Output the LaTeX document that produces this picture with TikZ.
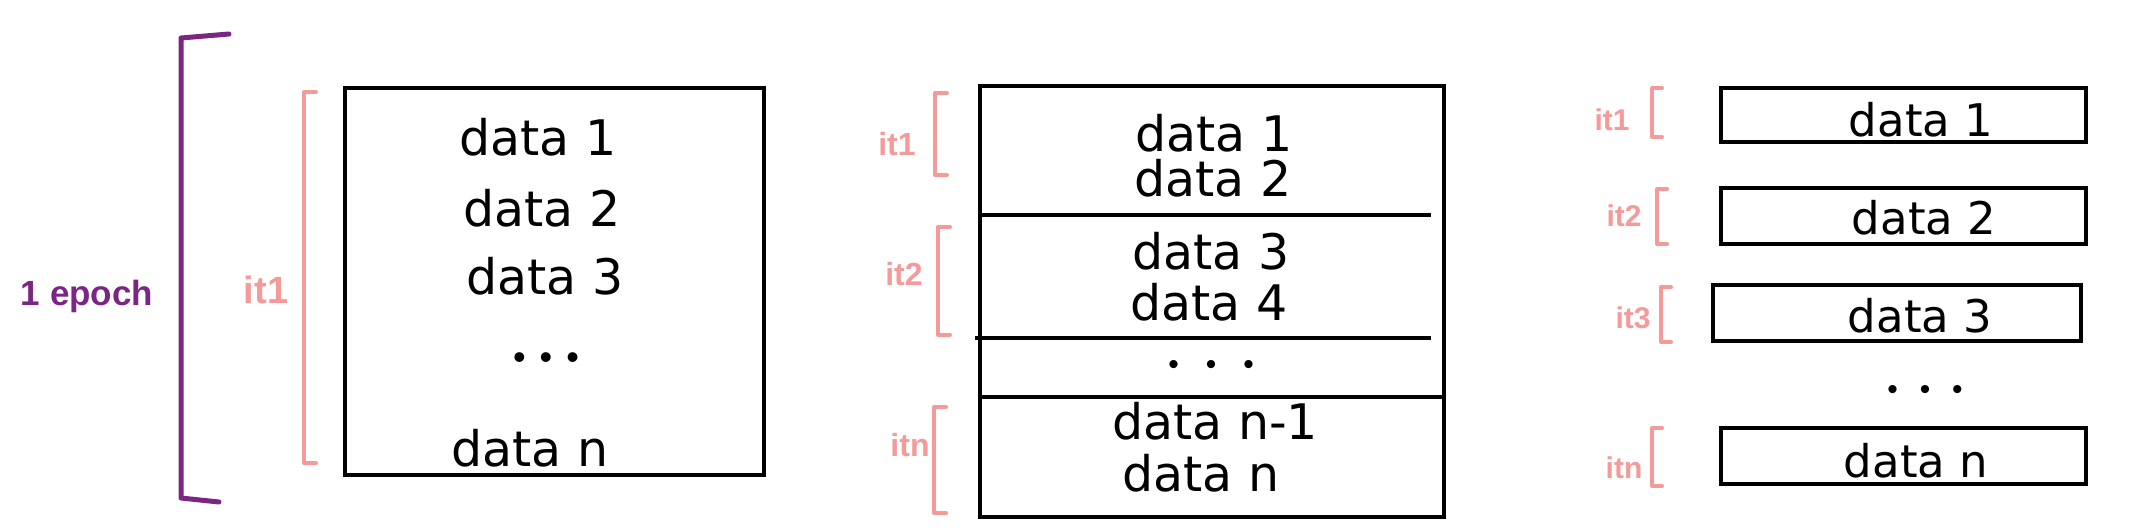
\documentclass[tikz,border=0pt]{standalone}
\usepackage{fontspec}
\setmainfont{Liberation Sans}
\newfontfamily\datafont{DejaVu Sans}
\definecolor{epochpurple}{RGB}{122,38,130}
\definecolor{itpink}{RGB}{244,154,152}
\begin{document}
\begin{tikzpicture}[x=1pt,y=-1pt,
  box/.style={draw=black, line width=4.5pt, inner sep=0pt, outer sep=0pt},
  boxline/.style={draw=black, line width=4.5pt},
  datatxt/.style={font=\datafont\fontsize{49}{52}\selectfont, inner sep=0pt},
  smalldata/.style={font=\datafont\fontsize{45}{48}\selectfont, inner sep=0pt},
  dotsA/.style={font=\fontsize{36}{40}\selectfont, inner sep=0pt},
  dotsB/.style={font=\fontsize{30}{34}\selectfont, inner sep=0pt},
  epochbr/.style={draw=epochpurple, line width=5pt, line join=round, line cap=round},
  itbr/.style={draw=itpink, line width=4pt, line join=round, line cap=round},
  epochlbl/.style={text=epochpurple, font=\fontsize{35}{38}\selectfont\bfseries, inner sep=0pt},
  itlblA/.style={text=itpink, font=\fontsize{38}{40}\selectfont\bfseries, inner sep=0pt},
  itlblB/.style={text=itpink, font=\fontsize{32}{36}\selectfont\bfseries, inner sep=0pt},
  itlblC/.style={text=itpink, font=\fontsize{30}{34}\selectfont\bfseries, inner sep=0pt}]
\useasboundingbox (0,0) rectangle (2147,530);

% ---------- Panel 1 ----------
\node[box, minimum width=419pt, minimum height=387pt] (b1) at (554.5,281.5) {};
\node[datatxt] (p1d1) at (538,137) {data 1};
\node[datatxt] (p1d2) at (542,208) {data 2};
\node[datatxt] (p1d3) at (545,276) {data 3};
\node[dotsA] (p1dots) at (546,361) {•\hspace{14pt}•\hspace{14pt}•};
\node[datatxt] (p1dn) at (530,448) {data n};

\draw[epochbr] (229,34) -- (181,38) -- (181,498) -- (219,502);
\node[epochlbl] (epoch) at (87,296) {1 epoch};

\draw[itbr] (316,92) -- (304,92) -- (304,463) -- (316,463);
\node[itlblA] (p1it) at (266,290) {it1};

% ---------- Panel 2 ----------
\node[box, minimum width=464pt, minimum height=431pt] (b2) at (1212,301.5) {};
\draw[boxline] (980,215) -- (1431,215);
\draw[boxline] (975,338) -- (1431,338);
\draw[boxline] (980,397) -- (1444,397);
\node[datatxt] (p2d1) at (1214,133) {data 1};
\node[datatxt] (p2d2) at (1213,178) {data 2};
\node[datatxt] (p2d3) at (1211,251) {data 3};
\node[datatxt] (p2d4) at (1209,302) {data 4};
\node[dotsB] (p2dots) at (1211,367) {•\hspace{27pt}•\hspace{27pt}•};
\node[datatxt] (p2dn1) at (1215,421) {data n-1};
\node[datatxt] (p2dn) at (1201,473) {data n};

\draw[itbr] (947,93) -- (935,93) -- (935,175) -- (947,175);
\node[itlblB] (p2it1) at (897,144) {it1};
\draw[itbr] (950,227) -- (938,227) -- (938,335) -- (950,335);
\node[itlblB] (p2it2) at (904,274) {it2};
\draw[itbr] (946,407) -- (934,407) -- (934,513) -- (946,513);
\node[itlblB] (p2itn) at (910,445) {itn};

% ---------- Panel 3 ----------
\node[box, minimum width=365pt, minimum height=54pt] (c1) at (1903.5,115) {};
\node[box, minimum width=365pt, minimum height=56pt] (c2) at (1903.5,216) {};
\node[box, minimum width=368pt, minimum height=56pt] (c3) at (1897,313) {};
\node[box, minimum width=365pt, minimum height=56pt] (cn) at (1903.5,456) {};
\node[smalldata] (p3d1) at (1921,120) {data 1};
\node[smalldata] (p3d2) at (1924,218) {data 2};
\node[smalldata] (p3d3) at (1920,316) {data 3};
\node[dotsB] (p3dots) at (1925,392) {•\hspace{22pt}•\hspace{22pt}•};
\node[smalldata] (p3dn) at (1916,461) {data n};

\draw[itbr] (1662,88) -- (1652,88) -- (1652,137) -- (1662,137);
\node[itlblC] (p3it1) at (1612,120) {it1};
\draw[itbr] (1667,189) -- (1657,189) -- (1657,244) -- (1667,244);
\node[itlblC] (p3it2) at (1624,216) {it2};
\draw[itbr] (1671,287) -- (1661,287) -- (1661,342) -- (1671,342);
\node[itlblC] (p3it3) at (1633,318) {it3};
\draw[itbr] (1662,428) -- (1652,428) -- (1652,486) -- (1662,486);
\node[itlblC] (p3itn) at (1624,468) {itn};
\end{tikzpicture}
\end{document}
